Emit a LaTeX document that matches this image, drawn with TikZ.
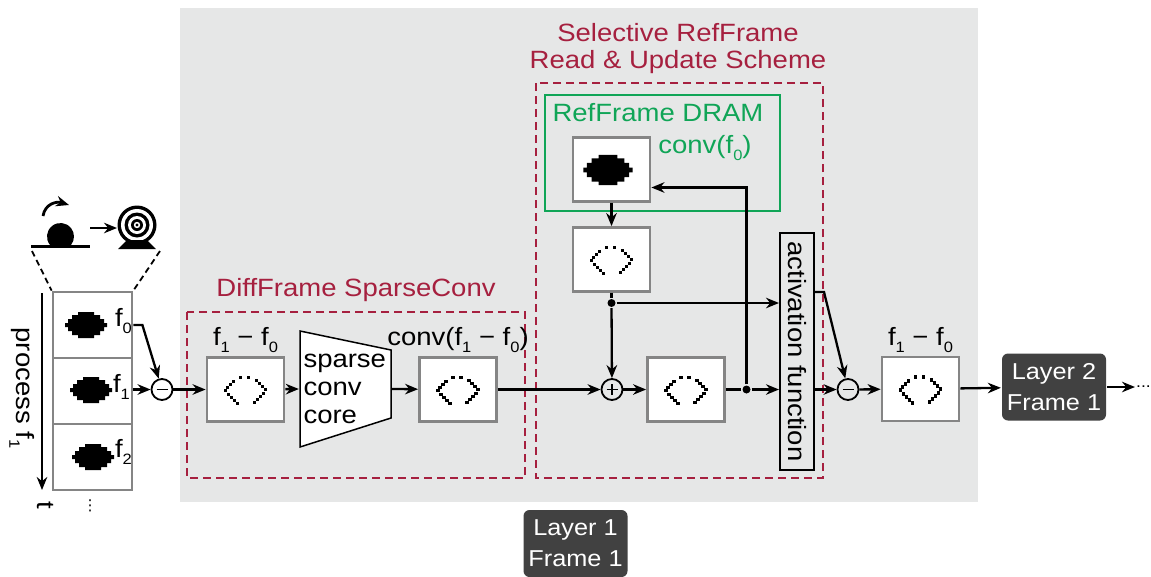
\documentclass[tikz,border=0pt]{standalone}
\usepackage{fontspec}
\setmainfont[FakeStretch=1.1]{Liberation Sans}
\newfontfamily\symfont{DejaVu Sans}
\usetikzlibrary{arrows.meta,positioning}
\definecolor{panel}{HTML}{E6E7E7}
\definecolor{crimson}{HTML}{A6203F}
\definecolor{dramgreen}{HTML}{10A557}
\definecolor{mapframe}{HTML}{858585}
\definecolor{tagfill}{HTML}{414141}
\newcommand\bigtext{\fontsize{25}{27}\selectfont}
\newcommand\tagtext{\fontsize{23}{31}\selectfont}
\newcommand\fsub[1]{f\raisebox{-7pt}{\fontsize{15}{15}\selectfont #1}}

\tikzset{
  % pixelated object in a frame
  blob/.pic={
    \fill (-8,-13) -- (8,-13) -- (8,-10) -- (14,-10) -- (14,-6) -- (18,-6) -- (18,-2) -- (21,-2)
      -- (21,2) -- (18,2) -- (18,6) -- (14,6) -- (14,10) -- (8,10) -- (8,13) -- (-8,13)
      -- (-8,10) -- (-14,10) -- (-14,6) -- (-18,6) -- (-18,2) -- (-21,2) -- (-21,-2)
      -- (-18,-2) -- (-18,-6) -- (-14,-6) -- (-14,-10) -- (-8,-10) -- cycle;
  },
  % sparse feature map (only the edge pixels survive)
  sparsemap/.pic={
    \foreach \x/\y in {-5/-12,3/-12,
        -12/-8,-15/-5,-18/-2,-20/1,-17/5,-14/8,-11/11,-8/14,
        11/-9,14/-6,17/-3,20/0,18/4,15/7,12/10,9/13}
      \fill (\x-1.7,\y-1.7) rectangle +(3.4,3.4);
  }
}

\begin{document}
\begin{tikzpicture}[x=1pt,y=-1pt,>={Stealth[length=13pt,width=10.5pt]},line width=2.3pt,font=\bigtext,
  fmap/.style={draw=mapframe,line width=2.8pt,fill=white,minimum width=77pt,minimum height=64pt,inner sep=0pt},
  framecell/.style={draw=mapframe,line width=2.8pt,fill=white,minimum width=79pt,minimum height=66pt,inner sep=0pt},
  lbl/.style={inner sep=2pt},
  region/.style={draw=crimson,dash pattern=on 8pt off 5pt,line width=2.2pt},
  subop/.style={circle,draw,line width=1.8pt,minimum size=21pt,inner sep=0pt,
    path picture={\draw[line width=1.8pt] ([xshift=5pt]path picture bounding box.west) -- ([xshift=-5pt]path picture bounding box.east);}},
  addop/.style={circle,draw,line width=1.8pt,minimum size=21pt,inner sep=0pt,
    path picture={\draw[line width=1.8pt] ([xshift=5pt]path picture bounding box.west) -- ([xshift=-5pt]path picture bounding box.east)
      ([yshift=5pt]path picture bounding box.south) -- ([yshift=-5pt]path picture bounding box.north);}},
  junction/.style={circle,fill,inner sep=0pt,minimum size=8pt},
  layer/.style={fill=tagfill,text=white,rounded corners=6pt,font=\tagtext,align=center,
    minimum width=104pt,minimum height=67pt,inner sep=2pt}]
\useasboundingbox (0,0) rectangle (1151,576);
\fill[panel] (180,8) rectangle (978,502);

% regions
\draw[region] (187,312) rectangle (525,478);
\draw[region] (536,83) rectangle (823,478);
\draw[dramgreen,line width=2.2pt] (545,95) rectangle (780,211);
\node[text=crimson] (difftitle) at (356,290) {DiffFrame SparseConv};
\node[text=crimson,align=center] (seltitle) at (678,49) {Selective RefFrame\\Read \& Update Scheme};
\node[text=dramgreen] (dramtitle) at (658,113) {RefFrame DRAM};

% camera icon
\fill (50,245) arc[start angle=141,end angle=399,radius=13.5] -- cycle;
\draw[line width=3pt] (31,246) -- (90,246);
\draw[->,line width=2.8pt] (43,216) .. controls (45,204) and (56,201) .. (69,205);
\coordinate (ballside) at (90,228);
\coordinate (camside) at (117,228);
\draw[->] (ballside) -- (camside);
\foreach \r/\c in {19.5/black,16/white,12.5/black,9/white,6/black,3.2/white,1.6/black}
  \fill[\c] (137,225) circle (\r);
\fill (118,249) -- (156,249) -- (147,240) -- (127,240) -- cycle;

% input frames
\node[framecell] (fr0) at (92.5,325) {};
\node[framecell] (fr1) at (92.5,391) {};
\node[framecell] (fr2) at (92.5,457) {};
\pic at (86,325) {blob};
\pic at (91,390) {blob};
\pic at (93,457) {blob};
\node (lf0) at (123.5,321.5) {\fsub{0}};
\node (lf1) at (121.5,386.5) {\fsub{1}};
\node (lf2) at (123.5,451.5) {\fsub{2}};
\draw[line width=1.8pt,dash pattern=on 6pt off 4pt] (32,251) -- (fr0.north west) (160,251) -- (fr0.north east);
\coordinate (tstart) at (42,293);
\coordinate (tend) at (42,490);
\draw[->] (tstart) -- (tend);
\node[rotate=-90] (proc) at (22,388) {process \fsub{1}};
\node[rotate=-90] (tlbl) at (45,505) {t};
\node[font=\symfont\fontsize{15}{15}\selectfont] (vd) at (90,506) {⋮};

% diff frame path
\node[subop] (m1) at (162,389.5) {};
\node[fmap,label={[lbl]above:\fsub{1} − \fsub{0}}] (b1) at (245.5,389.5) {};
\draw[fill=white,line width=1.5pt] (300,331) -- (391,350) -- (391,418) -- (300,447) -- cycle;
\node[align=left,text width=84pt,inner xsep=3.5pt,font=\fontsize{25}{28}\selectfont] (core) at (345.5,389) {sparse\\conv\\core};
\node[fmap,label={[lbl]above:conv(\fsub{1} − \fsub{0})}] (b2) at (458,389.5) {};
\pic at (b1) {sparsemap};
\pic at (b2) {sparsemap};

% reference frame path
\node[fmap] (ram) at (611.5,169.5) {};
\pic[scale=1.17] at (608,170) {blob};
\node[text=dramgreen] (ramlbl) at (705,148) {conv(\fsub{0})};
\node[fmap] (b3) at (611.5,259.5) {};
\node[junction] (j1) at (b3 |- 0,303) {};
\node[addop] (add) at (612,389.5) {};
\node[fmap] (b4) at (686,389.5) {};
\node[junction] (j2) at (746.5,389.5) {};
\node[draw,line width=2pt,rotate=-90,minimum width=237pt,minimum height=34pt,inner sep=0pt] (act) at (797,351.5) {activation function};
\pic at (b3) {sparsemap};
\pic at (b4) {sparsemap};

% output
\node[subop] (m2) at (848,389.5) {};
\node[fmap,label={[lbl]above:\fsub{1} − \fsub{0}}] (b5) at (920.5,389) {};
\pic at (b5) {sparsemap};
\node[layer] (l2) at (1054,387) {Layer 2\\Frame 1};
\node[anchor=west,inner sep=0pt,font=\fontsize{16}{16}\selectfont] (more) at (1135,387) {...};
\node[layer] (l1) at (575.5,543.5) {Layer 1\\Frame 1};

% connections
\draw[->] (fr0.east) -- ++(9,0) -- (m1);
\draw[->] (fr1.east |- m1) -- (m1);
\draw[->] (m1) -- (b1);
\draw[->] (b1) -- (core.west);
\draw[->] (core.east) -- (b2);
\draw[->] (b2) -- (add);
\draw[->] (ram) -- (b3);
\draw (b3) -- (j1);
\draw[->] (j1) -- (add);
\draw[->] (j1) -- (j1 -| act.south);
\draw[->] (add) -- (b4);
\draw (b4) -- (j2);
\draw[->] (j2) -- (j2 -| act.south);
\draw[->] (j2) |- ([yshift=-18pt]ram.east);
\draw[->] ([yshift=59.5pt]act.north) -- ++(9,0) -- (m2);
\draw[->] (act.north |- m2) -- (m2);
\draw[->] (m2) -- (b5);
\draw[->] (b5) -- (l2);
\draw[->] (l2) -- (more);
\end{tikzpicture}
\end{document}
